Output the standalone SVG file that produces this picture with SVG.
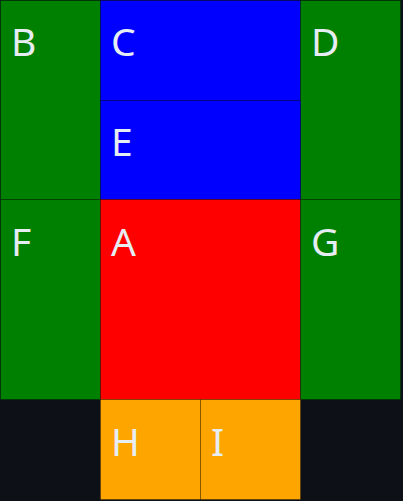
<svg xmlns="http://www.w3.org/2000/svg" width="403" height="501" viewBox="0 0 403 501">
<style>
.c{stroke:#000;stroke-opacity:0.25;stroke-width:1}
.g{fill:#008000}.b{fill:#0000ff}.r{fill:#ff0000}.o{fill:#ffa500}
text{font-family:"Noto Sans","Open Sans",sans-serif;font-size:39px;fill:#e6edf3}
</style>
<rect width="403" height="501" fill="#0d1117"/>
<g id="B"><rect class="c g" x="0.5" y="0.5" width="100" height="199"/><text x="11" y="56">B</text></g>
<g id="C"><rect class="c b" x="100.5" y="0.5" width="200" height="100"/><text x="111" y="56">C</text></g>
<g id="D"><rect class="c g" x="300.5" y="0.5" width="100" height="199"/><text x="311" y="56">D</text></g>
<g id="E"><rect class="c b" x="100.5" y="100.5" width="200" height="99"/><text x="111" y="156">E</text></g>
<g id="F"><rect class="c g" x="0.5" y="199.5" width="100" height="200"/><text x="11" y="256">F</text></g>
<g id="A"><rect class="c r" x="100.5" y="199.5" width="200" height="200"/><text x="111" y="256">A</text></g>
<g id="G"><rect class="c g" x="300.5" y="199.5" width="100" height="200"/><text x="311" y="256">G</text></g>
<g id="H"><rect class="c o" x="100.5" y="399.5" width="100" height="100"/><text x="111" y="456">H</text></g>
<g id="I"><rect class="c o" x="200.5" y="399.5" width="100" height="100"/><text x="211" y="456">I</text></g>
<g id="connectors"></g>
</svg>
